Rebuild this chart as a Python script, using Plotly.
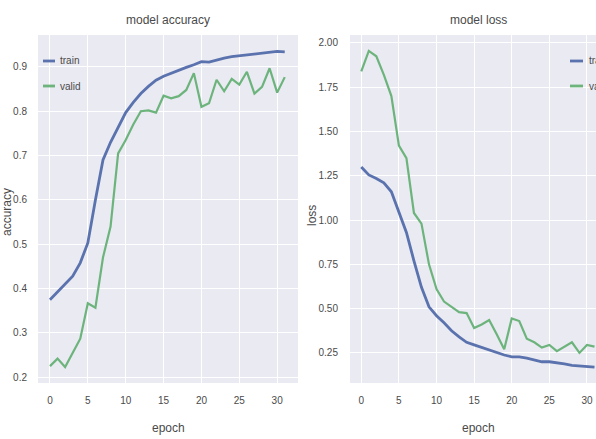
import plotly.graph_objects as go

epochs = list(range(32))

acc_train = [0.375, 0.393, 0.41, 0.428, 0.458, 0.503, 0.60, 0.69, 0.73, 0.765, 0.797, 0.82,
             0.84, 0.856, 0.870, 0.879, 0.886, 0.893, 0.899, 0.905, 0.912, 0.911, 0.916, 0.920,
             0.923, 0.925, 0.927, 0.929, 0.931, 0.933, 0.935, 0.934]
acc_valid = [0.225, 0.242, 0.223, 0.255, 0.287, 0.367, 0.357, 0.47, 0.54, 0.705, 0.735, 0.77,
             0.80, 0.802, 0.797, 0.835, 0.829, 0.834, 0.848, 0.886, 0.81, 0.818, 0.871, 0.845,
             0.873, 0.86, 0.889, 0.84, 0.855, 0.897, 0.842, 0.877]

loss_train = [1.30, 1.255, 1.235, 1.21, 1.16, 1.05, 0.93, 0.77, 0.62, 0.51, 0.46, 0.42,
              0.375, 0.34, 0.31, 0.295, 0.28, 0.265, 0.25, 0.238, 0.228, 0.228, 0.22, 0.21,
              0.20, 0.20, 0.195, 0.188, 0.18, 0.177, 0.173, 0.17]
loss_valid = [1.84, 1.955, 1.925, 1.82, 1.70, 1.42, 1.35, 1.04, 0.98, 0.75, 0.61, 0.54,
              0.51, 0.48, 0.475, 0.39, 0.41, 0.436, 0.355, 0.27, 0.445, 0.43, 0.33, 0.31,
              0.28, 0.295, 0.26, 0.285, 0.31, 0.25, 0.295, 0.285]

x_ticks = [0, 5, 10, 15, 20, 25, 30]
acc_ticks = [0.2, 0.3, 0.4, 0.5, 0.6, 0.7, 0.8, 0.9]
loss_ticks = [0.25, 0.50, 0.75, 1.00, 1.25, 1.50, 1.75, 2.00]
legend_labels = ["train", "valid"]

BLUE = "#5a72ad"
GREEN = "#6cb47c"
BG = "#eaeaf2"
TXT = "#4a4a4a"
FONT = "Liberation Sans, Arial, sans-serif"

W, H = 596, 439
T, B = 35, 56
PH = H - T - B


def px(x):
    return x / W


def py(y):
    return (H - B - y) / PH


fig = go.Figure()
fig.add_trace(go.Scatter(x=epochs, y=acc_train, mode="lines", line=dict(color=BLUE, width=2.8),
                         xaxis="x", yaxis="y", name="train"))
fig.add_trace(go.Scatter(x=epochs, y=acc_valid, mode="lines", line=dict(color=GREEN, width=2.2),
                         xaxis="x", yaxis="y", name="valid"))
fig.add_trace(go.Scatter(x=epochs, y=loss_train, mode="lines", line=dict(color=BLUE, width=2.8),
                         xaxis="x2", yaxis="y2", name="train"))
fig.add_trace(go.Scatter(x=epochs, y=loss_valid, mode="lines", line=dict(color=GREEN, width=2.2),
                         xaxis="x2", yaxis="y2", name="valid"))

axis_common = dict(showgrid=True, gridcolor="white", gridwidth=1.2, zeroline=False,
                   showline=False, ticks="outside", tickcolor="rgba(0,0,0,0)",
                   tickfont=dict(family=FONT, size=10, color=TXT))

fig.update_layout(
    width=W, height=H,
    margin=dict(l=0, r=0, t=T, b=B, autoexpand=False),
    paper_bgcolor="white", plot_bgcolor=BG,
    showlegend=False,
    xaxis=dict(domain=[px(38), px(298)], range=[-1.58, 32.75], tickvals=x_ticks,
               ticklen=8, anchor="y", **axis_common),
    yaxis=dict(domain=[0, 1], range=[0.187, 0.972], tickvals=acc_ticks, tickformat=".1f",
               ticklen=8, anchor="x", **axis_common),
    xaxis2=dict(domain=[px(350), 1.0], range=[-1.5, 31.2], tickvals=x_ticks,
                ticklen=8, anchor="y2", **axis_common),
    yaxis2=dict(domain=[0, 1], range=[0.08, 2.045], tickvals=loss_ticks, tickformat=".2f",
                ticklen=9, anchor="x2", **axis_common),
)


def label(text, x, y, size=12, angle=0, xanchor="center"):
    return dict(text=text, x=px(x), y=py(y), xref="paper", yref="paper", textangle=angle,
                xanchor=xanchor, yanchor="middle", showarrow=False,
                font=dict(family=FONT, size=size, color=TXT))


ann = [
    label("model accuracy", 168, 20),
    label("model loss", 478, 20),
    label("epoch", 168, 428),
    label("epoch", 478, 428),
    label("accuracy", 7, 212, angle=-90),
    label("loss", 312, 216, angle=-90),
]

shapes = []
legend_pos = [(43, 55, 58), (570, 583, 587)]
legend_y = [61, 86]
for (x0, x1, xt) in legend_pos:
    for lab, yy, col in zip(legend_labels, legend_y, [BLUE, GREEN]):
        shapes.append(dict(type="line", xref="paper", yref="paper", x0=px(x0), x1=px(x1),
                           y0=py(yy), y1=py(yy), line=dict(color=col, width=2.8)))
        ann.append(label(lab, xt, yy, size=10, xanchor="left"))

fig.update_layout(annotations=ann, shapes=shapes)
fig.write_html("out.html", config={"displayModeBar": False},
               post_script="document.body.style.margin='0';")
